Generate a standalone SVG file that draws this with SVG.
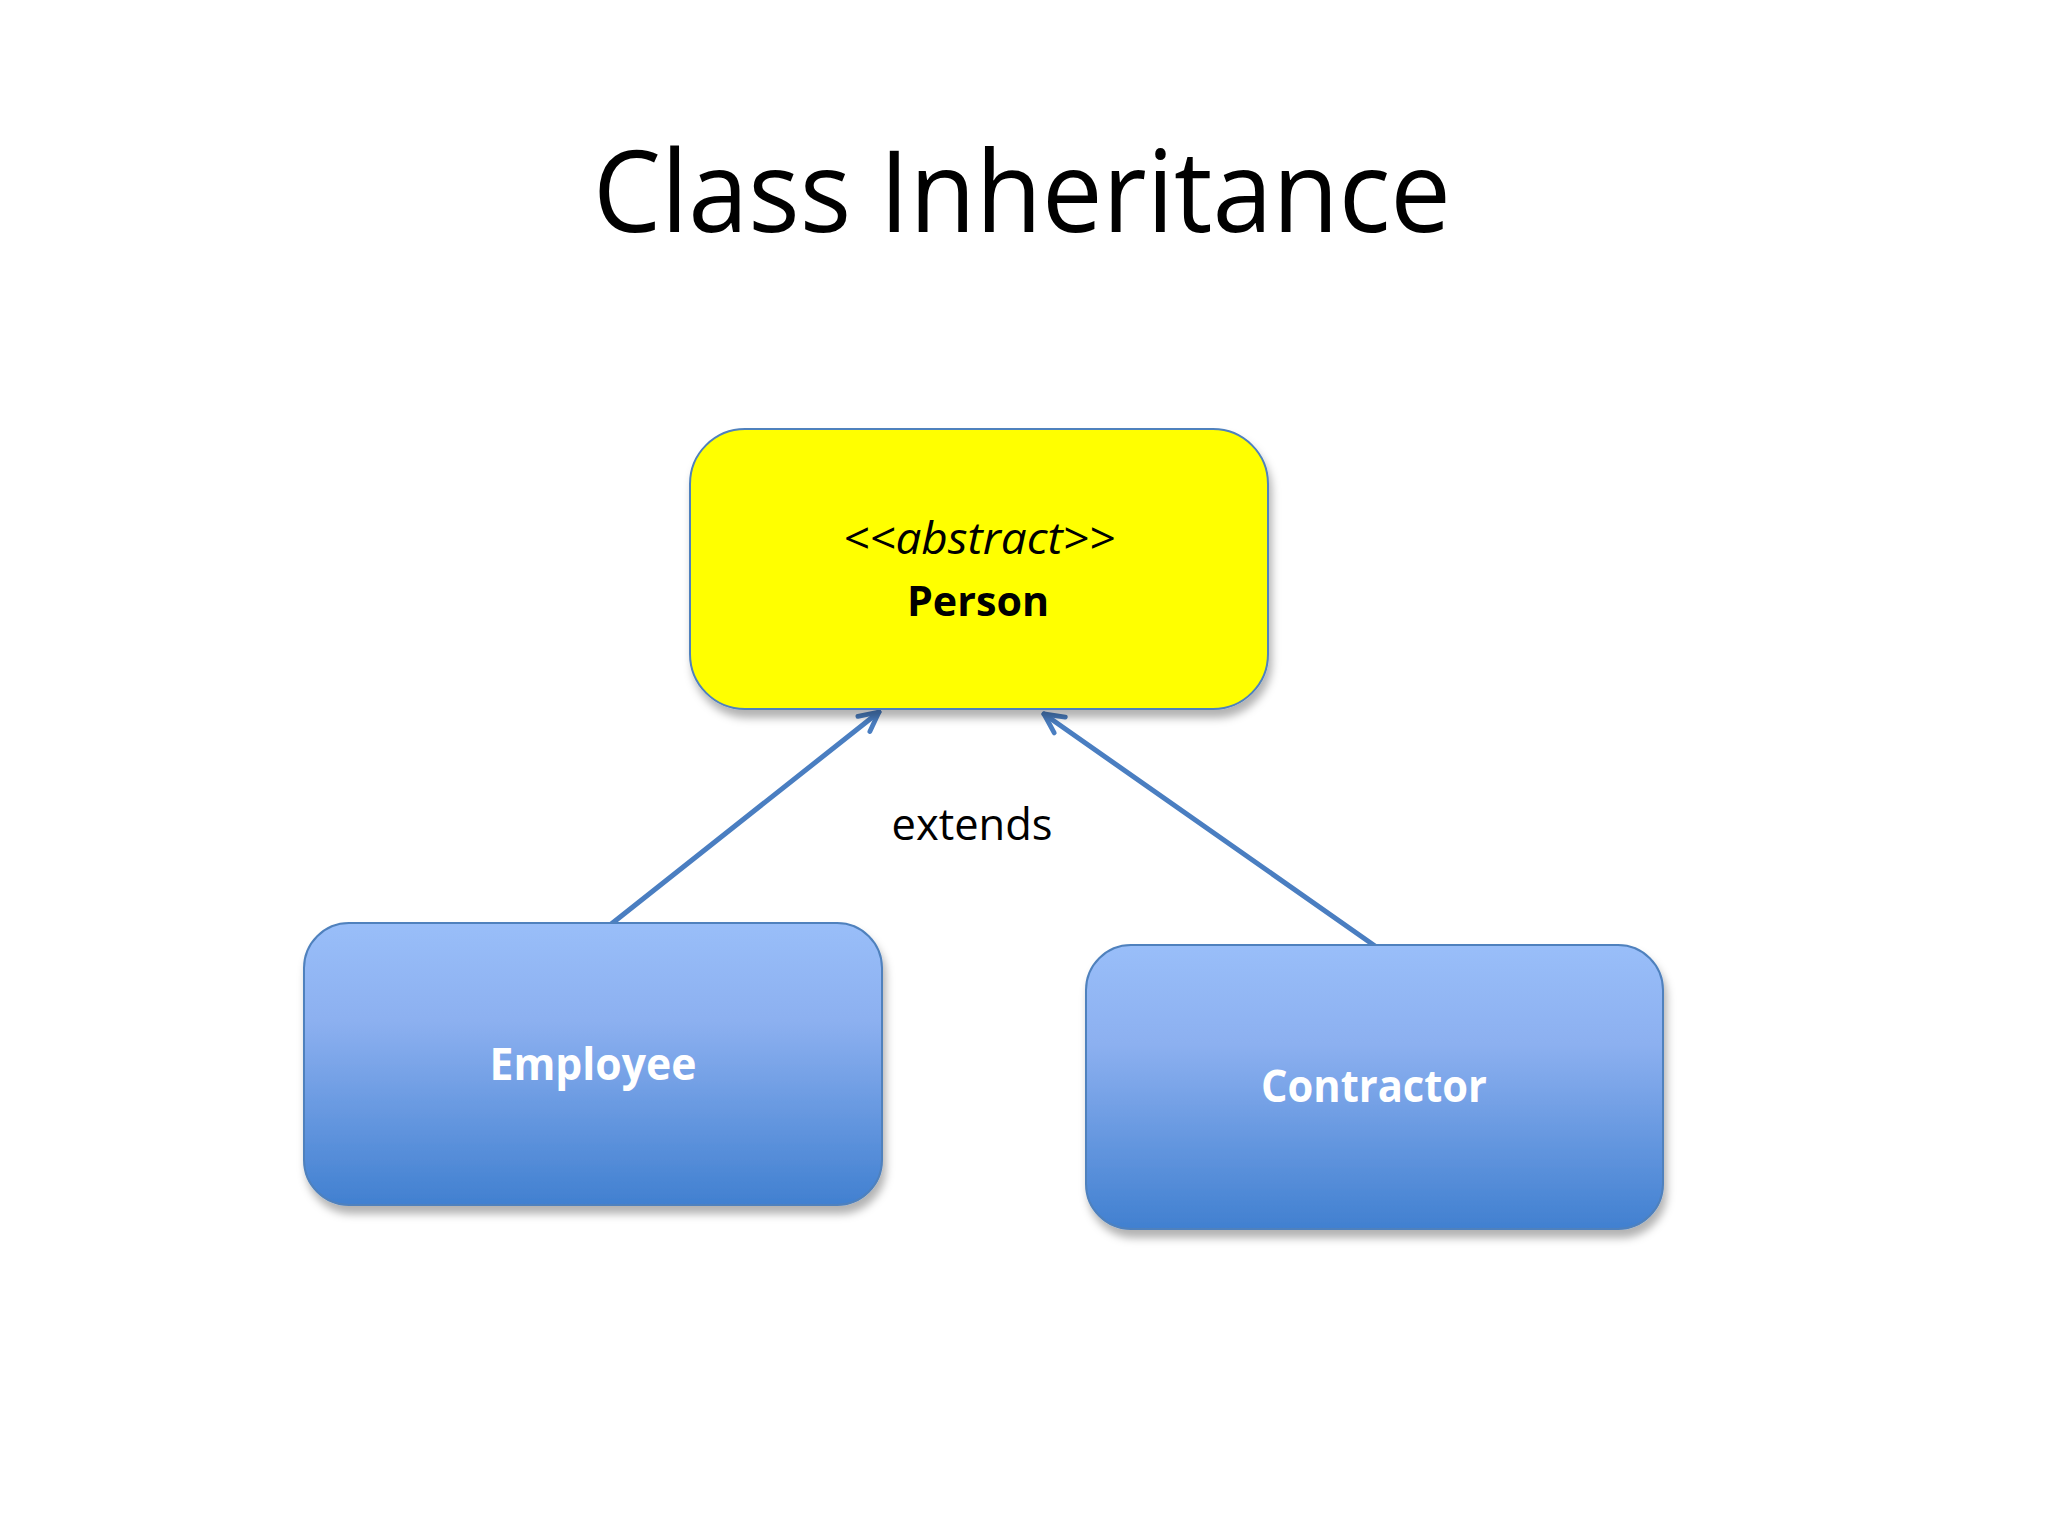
<svg xmlns="http://www.w3.org/2000/svg" width="2048" height="1536" viewBox="0 0 2048 1536">
<style>
.t{font-family:"Open Sans","Liberation Sans",sans-serif;text-anchor:middle}
.box{stroke:#4F81BD;stroke-width:2}
.conn{stroke:#4A7EC1;stroke-width:5;fill:none;stroke-linecap:round;stroke-linejoin:round}
</style>
<defs>
<linearGradient id="blue" x1="0" y1="0" x2="0" y2="1">
<stop offset="0" stop-color="#99BEF9"/>
<stop offset="0.35" stop-color="#8CB0F0"/>
<stop offset="1" stop-color="#4180D0"/>
</linearGradient>
<filter id="sh" x="-10%" y="-10%" width="125%" height="130%">
<feDropShadow dx="3" dy="8" stdDeviation="4" flood-color="#000" flood-opacity="0.3"/>
</filter>
<marker id="arr" viewBox="0 0 20 20" refX="18" refY="10" markerWidth="5.5" markerHeight="5.5" markerUnits="strokeWidth" orient="auto">
<path d="M4,3 L18,10 L4,17" fill="none" stroke="#4A7EC1" stroke-width="3.5" stroke-linecap="round" stroke-linejoin="round"/>
</marker>
</defs>
<rect width="2048" height="1536" fill="#FFFFFF"/>
<text class="t" x="1022" y="232" font-size="114" textLength="858" lengthAdjust="spacingAndGlyphs" fill="#000">Class Inheritance</text>
<g id="connectors">
<line class="conn" x1="610" y1="925" x2="879" y2="712" marker-end="url(#arr)"/>
<line class="conn" x1="1375" y1="946" x2="1044" y2="714" marker-end="url(#arr)"/>
<text class="t" x="972" y="840" font-size="43" textLength="161" lengthAdjust="spacingAndGlyphs" fill="#000">extends</text>
</g>
<g id="person">
<rect class="box" x="690" y="429" width="578" height="280" rx="55" ry="55" fill="#FFFF00" filter="url(#sh)"/>
<text class="t" x="979" y="554" font-size="43" font-style="italic" textLength="272" lengthAdjust="spacingAndGlyphs" fill="#000">&lt;&lt;abstract&gt;&gt;</text>
<text class="t" x="978" y="616" font-size="42" font-weight="bold" textLength="142" lengthAdjust="spacingAndGlyphs" fill="#000">Person</text>
</g>
<g id="employee">
<rect class="box" x="304" y="923" width="578" height="282" rx="45" ry="45" fill="url(#blue)" filter="url(#sh)"/>
<text class="t" x="593" y="1080" font-size="45" font-weight="bold" textLength="207" lengthAdjust="spacingAndGlyphs" fill="#FFFFFF">Employee</text>
</g>
<g id="contractor">
<rect class="box" x="1086" y="945" width="577" height="284" rx="45" ry="45" fill="url(#blue)" filter="url(#sh)"/>
<text class="t" x="1374" y="1102" font-size="45" font-weight="bold" textLength="226" lengthAdjust="spacingAndGlyphs" fill="#FFFFFF">Contractor</text>
</g>
</svg>
